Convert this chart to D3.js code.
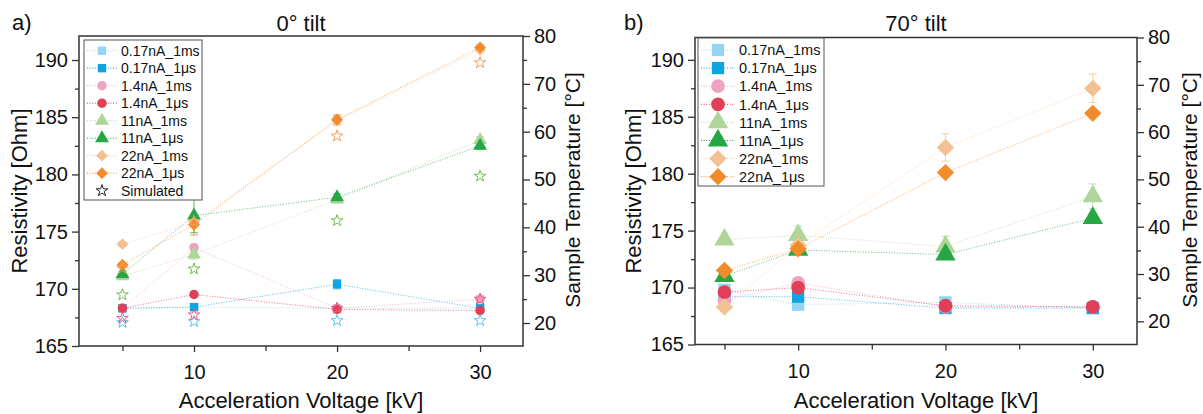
<!DOCTYPE html>
<html>
<head>
<meta charset="utf-8">
<script src="https://cdn.jsdelivr.net/npm/d3@7"></script>
<style>
  body { margin: 0; background: white; }
  text { font-family: "Liberation Sans", Arial, sans-serif; fill: #111; }
</style>
</head>
<body>
<script>
const width = 1203, height = 414;

// data
const voltages = [5, 10, 20, 30];
const seriesNames = ["0.17nA_1ms", "0.17nA_1\u03bcs", "1.4nA_1ms", "1.4nA_1\u03bcs",
                     "11nA_1ms", "11nA_1\u03bcs", "22nA_1ms", "22nA_1\u03bcs"];
const seriesColors = ["#93d5f2", "#0fa5e1", "#eea3c3", "#e13f58",
                      "#afd59b", "#27a744", "#f2c295", "#f28b2b"];
const seriesShapes = ["square", "square", "circle", "circle",
                      "triangle", "triangle", "diamond", "diamond"];

// 0 deg tilt, resistivity [Ohm]
const tilt0Values = [
  [168.3, 168.4, 168.3, 168.3],
  [168.3, 168.4, 170.4, 168.3],
  [168.3, 173.6, 168.3, 169.1],
  [168.3, 169.5, 168.2, 168.1],
  [171.1, 173.0, 177.8, 183.0],
  [171.3, 176.4, 178.0, 182.5],
  [173.9, 175.8, 184.7, 190.9],
  [172.1, 175.6, 184.8, 191.1]
];
const tilt0Errors = [
  [0.1, 0.1, 0.1, 0.1],
  [0.1, 0.2, 0.4, 0.1],
  [0.1, 0.3, 0.1, 0.3],
  [0.1, 0.2, 0.1, 0.1],
  [0.2, 0.4, 0.3, 0.3],
  [0.2, 1.5, 0.3, 0.3],
  [0.2, 0.4, 0.4, 0.2],
  [0.2, 0.9, 0.4, 0.2]
];
// simulated sample temperature [°C], 0 deg tilt
const simCurrents = ["0.17nA", "1.4nA", "11nA", "22nA"];
const simColors = ["#5cc3ec", "#ea5a80", "#6cc04c", "#f2a060"];
const simTemps = [
  [20.1, 20.3, 20.5, 20.5],
  [21.0, 21.7, 23.1, 25.0],
  [25.9, 31.3, 41.4, 50.7],
  [31.5, 41.2, 59.1, 74.4]
];

// 70 deg tilt, resistivity [Ohm]
const tilt70Values = [
  [169.8, 168.5, 168.7, 168.2],
  [169.2, 169.2, 168.2, 168.2],
  [168.9, 170.4, 168.3, 168.3],
  [169.6, 170.0, 168.4, 168.3],
  [174.2, 174.6, 173.6, 178.0],
  [171.0, 173.3, 172.9, 176.1],
  [168.3, 173.7, 182.3, 187.5],
  [171.5, 173.4, 180.1, 185.3]
];
const tilt70Errors = [
  [0.3, 0.5, 0.3, 0.1],
  [0.3, 0.4, 0.1, 0.1],
  [0.2, 0.3, 0.1, 0.1],
  [0.2, 0.3, 0.1, 0.1],
  [0.2, 0.8, 0.9, 1.1],
  [0.2, 0.3, 0.3, 0.2],
  [0.2, 0.5, 1.2, 1.25],
  [0.2, 0.3, 0.3, 0.2]
];

const svg = d3.select("body").append("svg")
    .attr("width", width)
    .attr("height", height);

svg.append("rect").attr("width", width).attr("height", height).attr("fill", "white");

const axisColor = "#333";
const starSize = 42;

function symbolPath(shape, size) {
  if (shape === "circle") return d3.symbol(d3.symbolCircle, size)();
  if (shape === "triangle") return d3.symbol(d3.symbolTriangle, size)();
  return d3.symbol(d3.symbolSquare, size)();
}

function drawMarker(g, shape, size, x, y, color) {
  g.append("path")
    .attr("d", symbolPath(shape, shape === "triangle" ? size * 1.2 : size))
    .attr("transform", `translate(${x},${y})` + (shape === "diamond" ? " rotate(45)" : ""))
    .attr("fill", color);
}

function drawPanel(p) {
  const g = svg.append("g");
  const x = d3.scaleLinear().domain(p.xDomain).range([p.left, p.right]);
  const y = d3.scaleLinear().domain(p.yDomain).range([p.bottom, p.top]);
  const t = d3.scaleLinear().domain(p.tDomain).range([p.bottom, p.top]);

  // axes
  const xAxis = d3.axisBottom(x).tickValues([5, 10, 15, 20, 25, 30])
      .tickFormat(d => d % 10 === 0 ? d : "").tickSize(6).tickPadding(13);
  const yAxis = d3.axisLeft(y).tickValues(d3.range(165, 191, 2.5))
      .tickFormat(d => d % 5 === 0 ? d : "").tickSize(7).tickPadding(4);
  const tAxis = d3.axisRight(t).tickValues(d3.range(20, 81, 5))
      .tickFormat(d => d % 10 === 0 ? d : "").tickSize(7).tickPadding(4);

  const styleAxis = sel => {
    sel.select(".domain").remove();
    sel.selectAll("line").attr("stroke", axisColor).attr("stroke-width", 1.3);
    sel.selectAll("text").attr("font-size", 20).attr("fill", "#111")
      .attr("font-family", "Liberation Sans, Arial, sans-serif");
  };
  g.append("g").attr("transform", `translate(0,${p.bottom})`).call(xAxis).call(styleAxis);
  g.append("g").attr("transform", `translate(${p.left},0)`).call(yAxis).call(styleAxis);
  g.append("g").attr("transform", `translate(${p.right},0)`).call(tAxis).call(styleAxis);
  // minor ticks shorter
  g.selectAll(".tick").filter(function() {
    return d3.select(this).select("text").text() === "";
  }).select("line").each(function() {
    const l = d3.select(this);
    if (l.attr("y2")) l.attr("y2", 5);
    if (l.attr("x2")) l.attr("x2", +l.attr("x2") > 0 ? 4 : -4);
  });

  g.append("rect")
    .attr("x", p.left).attr("y", p.top)
    .attr("width", p.right - p.left).attr("height", p.bottom - p.top)
    .attr("fill", "none").attr("stroke", axisColor).attr("stroke-width", 1.5);

  // series lines
  const line = d3.line().x((d, i) => x(voltages[i])).y(d => y(d));
  p.values.forEach((vals, s) => {
    g.append("path").attr("d", line(vals))
      .attr("fill", "none").attr("stroke", seriesColors[s])
      .attr("stroke-width", 1).attr("stroke-dasharray", "1,1.6").attr("opacity", 0.7);
  });

  // error bars
  p.values.forEach((vals, s) => {
    vals.forEach((v, i) => {
      const e = p.errors[s][i];
      const cx = x(voltages[i]);
      const eg = g.append("g").attr("stroke", seriesColors[s]).attr("stroke-width", 1).attr("opacity", 0.8);
      eg.append("line").attr("x1", cx).attr("x2", cx).attr("y1", y(v - e)).attr("y2", y(v + e));
      eg.append("line").attr("x1", cx - 4).attr("x2", cx + 4).attr("y1", y(v - e)).attr("y2", y(v - e));
      eg.append("line").attr("x1", cx - 4).attr("x2", cx + 4).attr("y1", y(v + e)).attr("y2", y(v + e));
    });
  });

  // markers
  p.values.forEach((vals, s) => {
    vals.forEach((v, i) => {
      drawMarker(g, seriesShapes[s], p.markerSize, x(voltages[i]), y(v), seriesColors[s]);
    });
  });

  // simulated stars on temperature axis
  if (p.sim) {
    p.sim.forEach((temps, c) => {
      temps.forEach((tv, i) => {
        g.append("path").attr("d", d3.symbol(d3.symbolStar, starSize)())
          .attr("transform", `translate(${x(voltages[i])},${t(tv)})`)
          .attr("fill", "none").attr("stroke", simColors[c]).attr("stroke-width", 1);
      });
    });
  }

  // legend
  const L = p.legend;
  const lg = g.append("g");
  lg.append("rect").attr("x", L.x0).attr("y", L.y0).attr("width", L.x1 - L.x0).attr("height", L.y1 - L.y0)
    .attr("fill", "white").attr("stroke", "#555").attr("stroke-width", 1);
  const entries = seriesNames.map((n, s) => ({ name: n, s }));
  if (p.sim) entries.push({ name: "Simulated", s: -1 });
  entries.forEach((e, k) => {
    const ry = L.rowY + k * L.rowStep;
    if (e.s >= 0) {
      lg.append("line").attr("x1", L.x0 + 3).attr("x2", L.textX - 4).attr("y1", ry).attr("y2", ry)
        .attr("stroke", seriesColors[e.s]).attr("stroke-width", 1).attr("stroke-dasharray", "1,1.6");
      drawMarker(lg, seriesShapes[e.s], p.markerSize, L.markX, ry, seriesColors[e.s]);
    } else {
      lg.append("path").attr("d", d3.symbol(d3.symbolStar, starSize)())
        .attr("transform", `translate(${L.markX},${ry})`)
        .attr("fill", "none").attr("stroke", "#222").attr("stroke-width", 1);
    }
    lg.append("text").attr("x", L.textX).attr("y", ry).attr("dy", "0.36em")
      .attr("font-size", L.font).text(e.name);
  });

  // titles
  g.append("text").attr("x", p.labelX).attr("y", 30).attr("font-size", 22).text(p.label);
  g.append("text").attr("x", (p.left + p.right) / 2).attr("y", 31).attr("text-anchor", "middle")
    .attr("font-size", 22).text(p.title);
  g.append("text").attr("x", (p.left + p.right) / 2).attr("y", 408).attr("text-anchor", "middle")
    .attr("font-size", 22).text("Acceleration Voltage [kV]");
  g.append("text").attr("transform", `translate(${p.yTitleX},191) rotate(-90)`)
    .attr("text-anchor", "middle").attr("font-size", 22).text("Resistivity [Ohm]");
  g.append("text").attr("transform", `translate(${p.tTitleX},190) rotate(-90)`)
    .attr("text-anchor", "middle").attr("font-size", 21).text("Sample Temperature [\u00b0C]");
}

drawPanel({
  left: 79, right: 523, top: 36, bottom: 346,
  xDomain: [1.96, 33], yDomain: [165, 192.1], tDomain: [15.2, 80],
  values: tilt0Values, errors: tilt0Errors, sim: simTemps,
  markerSize: 70,
  legend: { x0: 84, x1: 202, y0: 40, y1: 200, rowY: 50.7, rowStep: 17.5, markX: 102, textX: 121, font: 14 },
  label: "a)", labelX: 12, title: "0\u00b0 tilt", yTitleX: 27, tTitleX: 580
});

drawPanel({
  left: 695, right: 1137, top: 37.5, bottom: 344.5,
  xDomain: [3, 33], yDomain: [165, 191.96], tDomain: [15.1, 80],
  values: tilt70Values, errors: tilt70Errors, sim: null,
  markerSize: 150,
  legend: { x0: 698, x1: 824, y0: 38, y1: 186, rowY: 50, rowStep: 18.1, markX: 718, textX: 739, font: 14.5 },
  label: "b)", labelX: 624, title: "70\u00b0 tilt", yTitleX: 641, tTitleX: 1197
});
</script>
</body>
</html>
